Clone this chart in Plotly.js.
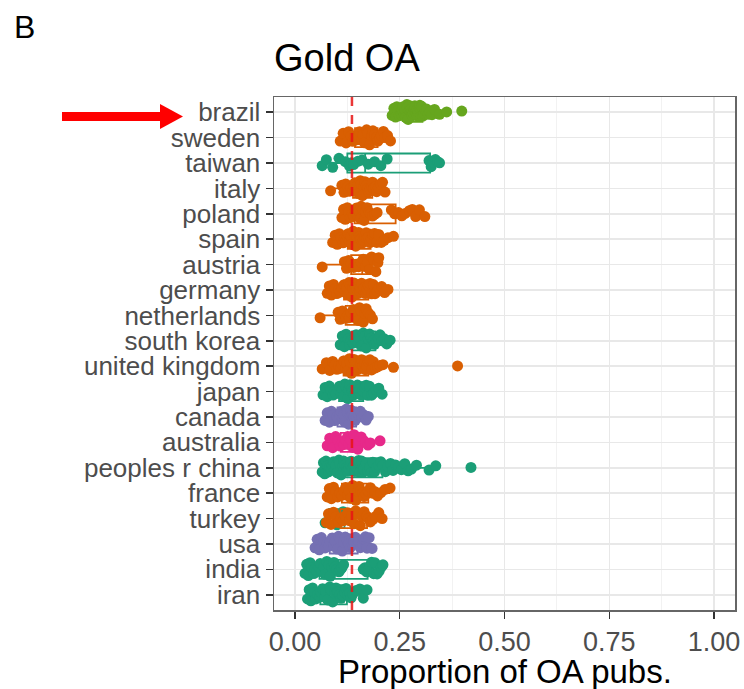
<!DOCTYPE html>
<html>
<head>
<meta charset="utf-8">
<script src="https://cdn.plot.ly/plotly-3.0.1.min.js"></script>
<style>html,body{margin:0;padding:0;background:#fff;}#chart{width:744px;height:689px;}</style>
</head>
<body>
<div id="chart"></div>
<script>
// Categories (top to bottom) and region of each
const countries = ["brazil","sweden","taiwan","italy","poland","spain","austria","germany","netherlands","south korea","united kingdom","japan","canada","australia","peoples r china","france","turkey","usa","india","iran"];
const regions = ["Latin America","Europe","Asia","Europe","Europe","Europe","Europe","Europe","Europe","Asia","Europe","Asia","North America","Oceania","Asia","Europe","Europe","North America","Asia","Asia"];

// Proportion of Gold OA publications, per country
const brazil = [0.232,0.236,0.24,0.243,0.246,0.249,0.252,0.254,0.256,0.258,0.261,0.262,0.264,0.267,0.268,0.27,0.273,0.274,0.276,0.279,0.28,0.282,0.285,0.286,0.288,0.291,0.292,0.294,0.297,0.298,0.30,0.302,0.305,0.308,0.311,0.314,0.318,0.322,0.327,0.333,0.345,0.362,0.398];
const sweden = [0.108,0.115,0.122,0.128,0.134,0.138,0.142,0.147,0.15,0.154,0.159,0.162,0.166,0.171,0.174,0.178,0.183,0.186,0.19,0.195,0.198,0.203,0.206,0.211,0.215,0.221,0.228];
const taiwan = [0.065,0.075,0.09,0.105,0.12,0.13,0.135,0.14,0.15,0.16,0.175,0.19,0.205,0.22,0.32,0.325,0.33,0.335,0.34,0.345];
const italy = [0.085,0.112,0.117,0.121,0.126,0.129,0.133,0.138,0.14,0.143,0.147,0.149,0.152,0.156,0.158,0.161,0.165,0.167,0.17,0.174,0.176,0.179,0.183,0.185,0.188,0.192,0.195,0.199,0.204,0.209,0.215];
const poland = [0.112,0.116,0.12,0.125,0.128,0.132,0.137,0.14,0.143,0.147,0.149,0.152,0.156,0.158,0.161,0.165,0.168,0.172,0.177,0.18,0.185,0.19,0.196,0.23,0.238,0.247,0.255,0.263,0.273,0.28,0.288,0.297,0.31];
const spain = [0.09,0.096,0.101,0.106,0.11,0.115,0.118,0.121,0.125,0.127,0.13,0.134,0.136,0.139,0.143,0.145,0.148,0.152,0.154,0.157,0.161,0.163,0.166,0.17,0.172,0.175,0.179,0.182,0.186,0.19,0.195,0.2,0.206,0.213,0.222,0.235];
const austria = [0.065,0.118,0.123,0.128,0.134,0.14,0.146,0.152,0.158,0.163,0.168,0.173,0.178,0.183,0.188,0.193,0.198,0.2];
const germany = [0.077,0.082,0.087,0.092,0.096,0.1,0.105,0.108,0.112,0.117,0.12,0.123,0.127,0.129,0.132,0.136,0.138,0.141,0.145,0.147,0.15,0.154,0.156,0.159,0.163,0.165,0.168,0.172,0.175,0.179,0.183,0.187,0.191,0.196,0.201,0.207,0.214,0.222];
const netherlands = [0.06,0.103,0.108,0.113,0.118,0.122,0.127,0.13,0.134,0.139,0.142,0.146,0.151,0.154,0.158,0.163,0.166,0.17,0.175,0.18,0.185];
const southKorea = [0.108,0.113,0.118,0.122,0.127,0.13,0.134,0.139,0.142,0.146,0.151,0.154,0.158,0.163,0.166,0.17,0.175,0.178,0.182,0.187,0.19,0.194,0.199,0.203,0.208,0.213,0.219,0.227];
const unitedKingdom = [0.065,0.075,0.083,0.09,0.095,0.1,0.104,0.109,0.112,0.116,0.121,0.123,0.126,0.13,0.132,0.135,0.139,0.141,0.144,0.148,0.15,0.153,0.157,0.159,0.162,0.166,0.168,0.171,0.175,0.179,0.183,0.187,0.192,0.197,0.203,0.21,0.235,0.388];
const japan = [0.067,0.072,0.077,0.082,0.086,0.091,0.094,0.098,0.103,0.106,0.11,0.113,0.117,0.119,0.122,0.126,0.128,0.131,0.135,0.137,0.14,0.144,0.146,0.149,0.153,0.155,0.158,0.162,0.166,0.17,0.174,0.178,0.183,0.188,0.194,0.2,0.208];
const canada = [0.072,0.077,0.082,0.087,0.091,0.095,0.1,0.103,0.107,0.11,0.114,0.116,0.119,0.123,0.125,0.128,0.132,0.134,0.137,0.141,0.144,0.148,0.152,0.156,0.16,0.165,0.17,0.175];
const australia = [0.077,0.083,0.09,0.097,0.103,0.108,0.113,0.117,0.121,0.126,0.129,0.133,0.138,0.141,0.145,0.15,0.153,0.158,0.163,0.168,0.174,0.18,0.203];
const china = [0.065,0.068,0.071,0.074,0.078,0.08,0.083,0.087,0.089,0.092,0.096,0.098,0.101,0.105,0.107,0.11,0.114,0.116,0.119,0.123,0.125,0.128,0.132,0.134,0.137,0.141,0.143,0.146,0.15,0.152,0.155,0.159,0.161,0.164,0.168,0.17,0.174,0.178,0.182,0.186,0.19,0.195,0.2,0.205,0.21,0.216,0.222,0.228,0.234,0.24,0.247,0.254,0.262,0.27,0.278,0.29,0.32,0.336,0.42];
const france = [0.077,0.082,0.087,0.092,0.097,0.102,0.107,0.112,0.117,0.121,0.126,0.129,0.133,0.138,0.141,0.145,0.15,0.153,0.157,0.162,0.165,0.17,0.175,0.18,0.185,0.19,0.197,0.205,0.215,0.227];
const turkey = [0.075,0.08,0.086,0.092,0.098,0.104,0.11,0.115,0.12,0.126,0.13,0.135,0.141,0.145,0.15,0.156,0.16,0.165,0.171,0.175,0.18,0.186,0.192,0.2,0.208];
const turkeyAsia = [0.072,0.085,0.1,0.115,0.128];
const usa = [0.048,0.053,0.058,0.063,0.068,0.072,0.077,0.08,0.084,0.089,0.092,0.096,0.101,0.104,0.108,0.113,0.116,0.12,0.125,0.128,0.132,0.137,0.14,0.144,0.149,0.152,0.156,0.161,0.164,0.168,0.172,0.177,0.184];
const india = [0.024,0.028,0.032,0.036,0.04,0.045,0.048,0.052,0.057,0.06,0.064,0.069,0.072,0.076,0.081,0.084,0.088,0.093,0.096,0.1,0.105,0.108,0.112,0.116,0.163,0.167,0.171,0.176,0.179,0.183,0.188,0.191,0.196,0.201,0.206,0.21];
const iran = [0.03,0.034,0.038,0.042,0.047,0.05,0.054,0.059,0.062,0.066,0.071,0.074,0.078,0.083,0.086,0.09,0.095,0.098,0.102,0.107,0.11,0.114,0.119,0.122,0.126,0.131,0.134,0.138,0.146,0.155,0.163,0.172];

const seriesValues = [brazil,sweden,taiwan,italy,poland,spain,austria,germany,netherlands,southKorea,unitedKingdom,japan,canada,australia,china,france,turkey,usa,india,iran];

// Overall reference proportion (red dashed line)
const overallProportion = 0.136;

// x tick values / labels
const xTickVals = [0, 0.25, 0.5, 0.75, 1];
const xTickText = ["0.00","0.25","0.50","0.75","1.00"];

// ---- styles ----
const regionColors = {
  "Latin America": "#66A61E",
  "Europe": "#D95F02",
  "Asia": "#1B9E77",
  "North America": "#7570B3",
  "Oceania": "#E7298A"
};
const FONT = "Liberation Sans, Arial, Helvetica, sans-serif";

function boxTrace(name, vals, region) {
  const c = regionColors[region];
  return {
    type: "box",
    orientation: "h",
    x: vals,
    y: vals.map(() => name),
    width: 0.75,
    boxpoints: "all",
    jitter: 0.85,
    pointpos: 0,
    fillcolor: "rgba(0,0,0,0)",
    line: {color: c, width: 1.8},
    marker: {color: c, size: 11, opacity: 1, line: {width: 0}},
    whiskerwidth: 0,
    showlegend: false,
    hoverinfo: "x+y"
  };
}

const traces = [];
countries.forEach((name, i) => {
  if (name === "turkey") traces.push(boxTrace(name, turkeyAsia, "Asia"));
  traces.push(boxTrace(name, seriesValues[i], regions[i]));
});

// pixel -> paper helpers for the decorative arrow and labels
const L = 274, R = 9, T = 97, B = 79, W = 744, H = 689;
const pw = W - L - R, ph = H - T - B;
const px = x => (x - L) / pw;
const py = y => (H - B - y) / ph;

const layout = {
  width: W, height: H,
  margin: {l: L, r: R, t: T, b: B, pad: 0},
  paper_bgcolor: "#fff",
  plot_bgcolor: "#fff",
  font: {family: FONT},
  boxmode: "overlay",
  showlegend: false,
  title: {
    text: "Gold OA",
    font: {family: FONT, size: 38, color: "#000"},
    xref: "paper", x: 0, xanchor: "left",
    yref: "container", y: 1 - 58 / H, yanchor: "middle"
  },
  xaxis: {
    range: [-0.05, 1.05],
    tickmode: "array",
    tickvals: xTickVals,
    ticktext: xTickText,
    ticks: "outside", ticklen: 7, tickwidth: 1.5, tickcolor: "#333",
    tickfont: {family: FONT, size: 27, color: "#4d4d4d"},
    showgrid: true, gridcolor: "#e8e8e8", gridwidth: 1.5,
    minor: {tick0: 0.125, dtick: 0.25, showgrid: true, gridcolor: "#f2f2f2", gridwidth: 1, ticks: ""},
    zeroline: false,
    showline: true, mirror: true, linecolor: "#666", linewidth: 1.5
  },
  yaxis: {
    type: "category",
    categoryorder: "array",
    categoryarray: countries,
    tickmode: "array",
    tickvals: countries,
    ticktext: countries,
    range: [countries.length - 1 + 0.6, -0.6],
    ticks: "outside", ticklen: 7, tickwidth: 1.5, tickcolor: "#333",
    tickfont: {family: FONT, size: 26, color: "#4d4d4d"},
    showgrid: true, gridcolor: "#e8e8e8", gridwidth: 1.5,
    zeroline: false,
    showline: true, mirror: true, linecolor: "#666", linewidth: 1.5
  },
  shapes: [
    {type: "line", xref: "x", yref: "paper", x0: overallProportion, x1: overallProportion, y0: 0, y1: 1,
     line: {color: "rgba(230,20,20,0.85)", width: 2.5, dash: "9px,9px"}, layer: "above"},
    {type: "rect", xref: "paper", yref: "paper", x0: px(62), x1: px(161), y0: py(121), y1: py(112),
     fillcolor: "#ff0000", line: {width: 0}, layer: "above"},
    {type: "path", xref: "paper", yref: "paper",
     path: `M ${px(160)} ${py(104)} L ${px(183)} ${py(116.5)} L ${px(160)} ${py(129)} Z`,
     fillcolor: "#ff0000", line: {width: 0}, layer: "above"}
  ],
  annotations: [
    {text: "B", xref: "paper", yref: "paper", x: px(12), y: py(27), xanchor: "left", yanchor: "middle",
     showarrow: false, font: {family: FONT, size: 32, color: "#000"}},
    {text: "Proportion of OA pubs.", xref: "paper", yref: "paper", x: 0.5, y: py(672), xanchor: "center", yanchor: "middle",
     showarrow: false, font: {family: FONT, size: 33, color: "#000"}}
  ]
};

Plotly.newPlot("chart", traces, layout, {displayModeBar: false, staticPlot: true});
</script>
</body>
</html>
